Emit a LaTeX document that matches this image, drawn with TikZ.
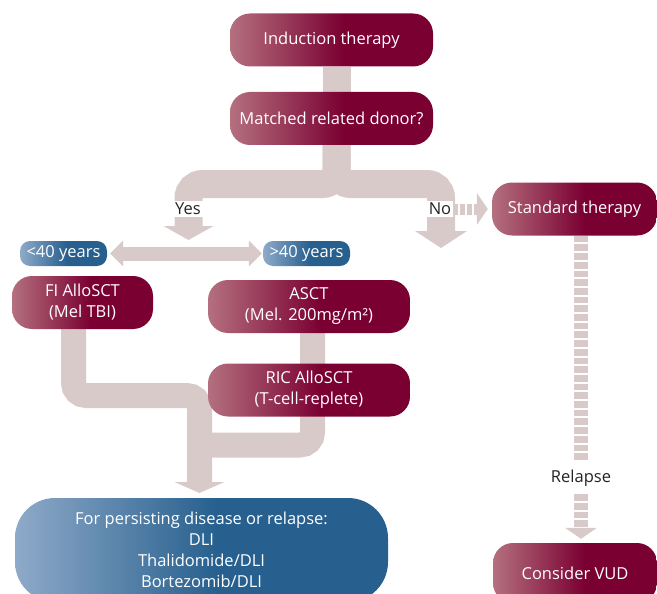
\documentclass[tikz,border=0pt]{standalone}
\usepackage{fontspec}
\setsansfont{Open Sans}
\usepackage{tikz}
\usetikzlibrary{arrows.meta,positioning,backgrounds}
\usepackage{xcolor}
\definecolor{MmWine}{HTML}{7A0031}
\definecolor{MmWineLt}{HTML}{B4707F}
\definecolor{MmSteel}{HTML}{27608E}
\definecolor{MmSteelLt}{HTML}{8FAAC9}
\definecolor{MmTrack}{HTML}{D9CACA}
\definecolor{MmInk}{HTML}{262223}
\pgfdeclarehorizontalshading{wineshade}{100bp}{color(0bp)=(MmWineLt); color(25bp)=(MmWineLt); color(53bp)=(MmWine); color(100bp)=(MmWine)}
\pgfdeclarehorizontalshading{steelshade}{100bp}{color(0bp)=(MmSteelLt); color(25bp)=(MmSteelLt); color(52bp)=(MmSteel); color(100bp)=(MmSteel)}

\begin{document}
\begin{tikzpicture}[x=1pt, y=-1pt, font=\sffamily\fontsize{16.5}{21}\selectfont,
    wine/.style={shade, shading=wineshade, rounded corners=20pt, text=white, align=center, inner sep=0pt, minimum width=203pt, minimum height=53pt},
    steel/.style={shade, shading=steelshade, rounded corners=10pt, text=white, align=center, inner sep=0pt, minimum width=87pt, minimum height=25pt},
    tag/.style={fill=white, text=MmInk, inner sep=2pt},
    track/.style={draw=MmTrack, line width=28pt, rounded corners=14pt},
    dots/.style={draw=MmTrack, line width=11pt, dash pattern=on 5pt off 2pt}]
        \useasboundingbox (0,0) rectangle (657,594);
        \node[wine] (ind) at (331.5,40) {Induction therapy};
        \node[wine] (mrd) at (331.5,118.5) {Matched related donor?};
        \node[wine,minimum width=165pt] (std) at (574.5,209) {Standard therapy};
        \node[steel] (young) at (63.5,253.5) {<40 years};
        \node[steel] (old) at (306.5,253.5) {>40 years};
        \node[wine,minimum width=141pt] (fi) at (82.5,302.5) {FI AlloSCT\\(Mel TBI)};
        \node[wine,minimum width=202pt] (asct) at (309,306.5) {ASCT\\(Mel. 200mg/m²)};
        \node[wine,minimum width=202pt] (ric) at (309,390) {RIC AlloSCT\\(T-cell-replete)};
        \node[steel,rounded corners=40pt,minimum width=373pt,minimum height=104pt] (dli) at (201.5,550) {For persisting disease or relapse:\\DLI\\Thalidomide/DLI\\Bortezomib/DLI};
        \node[wine,minimum width=164pt,minimum height=60pt] (vud) at (575,573) {Consider VUD};
        \node[tag] (yes) at (188,209) {Yes};
        \node[tag] (no) at (440,209) {No};
        \node[tag,fill=none,minimum height=32pt] (relapse) at (581,478) {Relapse};
        \coordinate (fork) at (336.5,184);
        \coordinate (yesTip) at (188.5,240);
        \coordinate (noTip) at (441,248);
        \coordinate (bendL) at (199.5,395.5);
        \coordinate (bendR) at (199.5,445);
        \coordinate (dliTip) at (199.5,493);
        \begin{scope}[on background layer]
            \draw[track] ([xshift=5pt]ind.south) -- ([xshift=5pt]mrd.north);
            \draw[track,-{Triangle[width=50pt,length=14pt,line width=0pt]}] ([xshift=5pt]mrd.south) -- (fork) -| (yesTip);
            \draw[track,-{Triangle[width=52pt,length=17pt,line width=0pt]}] ([xshift=5pt]mrd.south) -- (fork) -| (noTip);
            \draw[track,line width=14pt,shorten <=3pt,shorten >=1pt,{Triangle[width=26pt,length=13pt,line width=0pt]}-{Triangle[width=26pt,length=13pt,line width=0pt]}] (young) -- (old);
            \draw[track,line width=25pt,rounded corners=12.5pt,-{Triangle[width=50pt,length=11pt,line width=0pt]}] ([xshift=-9pt]fi.south) |- (bendL) -- (dliTip);
            \draw[track,line width=25pt,rounded corners=12.5pt] ([xshift=3.5pt]asct.south) |- (bendR);
            \draw[dots,shorten >=4pt,-{Triangle[width=32pt,length=11pt,line width=0pt]}] (no) -- (std);
            \draw[dots,line width=14pt,dash pattern=on 6.7pt off 2pt] (std.south -| relapse) -- (relapse);
            \draw[dots,line width=14pt,dash pattern=on 6.7pt off 2pt,shorten >=4pt,-{Triangle[width=32pt,length=11pt,line width=0pt]}] (relapse) -- (vud.north -| relapse);
        \end{scope}
      \end{tikzpicture}
\end{document}
